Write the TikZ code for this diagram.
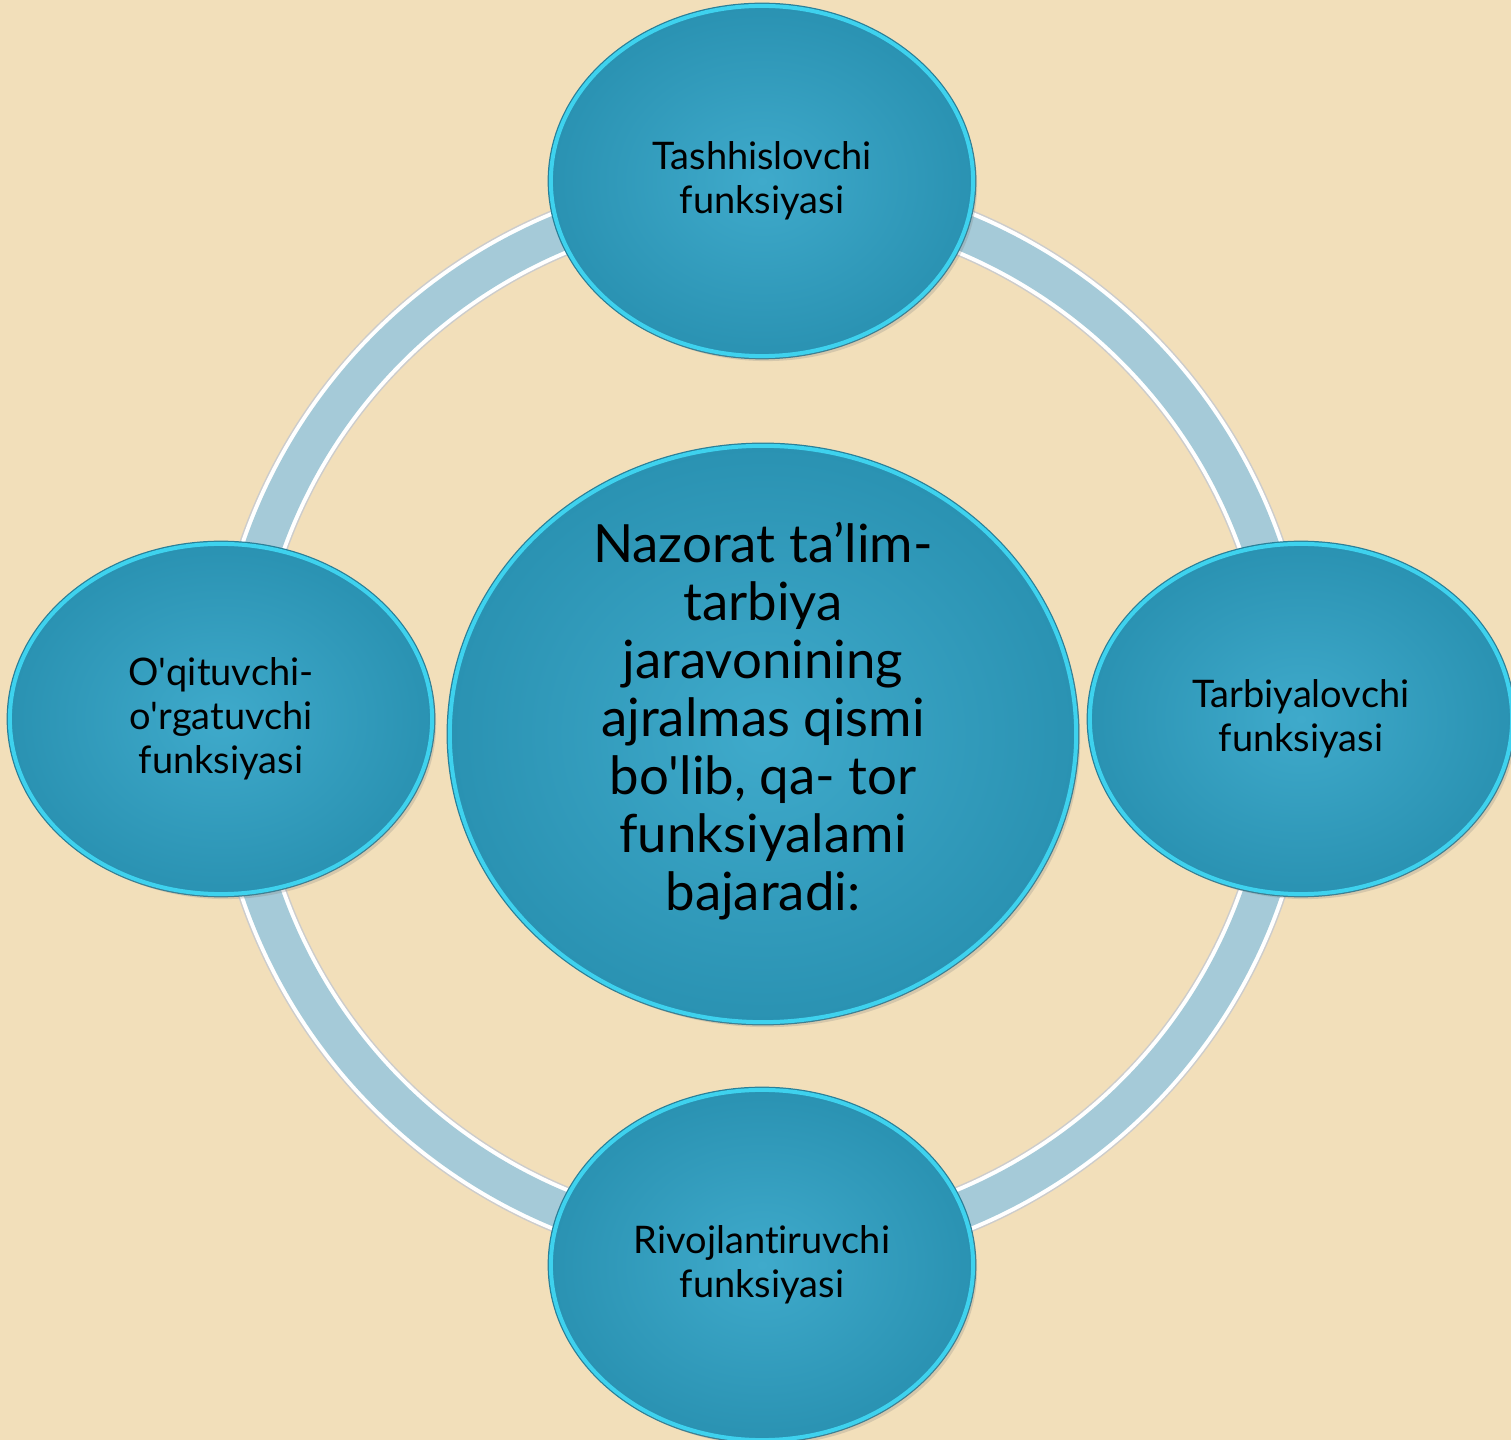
\documentclass[tikz,border=0pt]{standalone}
\usepackage{fontspec}
\setmainfont{Lato}[Ligatures={NoCommon}]
\usetikzlibrary{shapes.geometric,shadows}

\definecolor{parch}{HTML}{F2DFBA}
\definecolor{ringfill}{HTML}{A5CAD8}
\definecolor{bubblein}{HTML}{3FAACB}
\definecolor{bubbleout}{HTML}{2A92B2}
\definecolor{bubbleedge}{HTML}{3ED2EE}
\definecolor{bubbledark}{HTML}{2A7F98}

\newcommand{\sq}{\textquotesingle}

\begin{document}
\begin{tikzpicture}[x=0.01cm,y=-0.01cm,
	bubble/.style={ellipse, draw=bubbleedge, line width=0.04cm,
		inner color=bubblein, outer color=bubbleout, align=center,
		preaction={draw=bubbledark, line width=0.065cm},
		drop shadow={opacity=0.25, shadow xshift=0.04cm, shadow yshift=-0.05cm}},
	smallbubble/.style={bubble, minimum width=4.22cm, minimum height=3.5cm,
		font=\fontsize{10.8pt}{12.5pt}\selectfont},
	bigbubble/.style={bubble, minimum width=6.26cm, minimum height=5.76cm},
	bigtext/.style={align=center, font=\fontsize{15pt}{16.5pt}\selectfont}]

% background
\path[use as bounding box, fill=parch] (0,0) rectangle (1511,1440);

% ring
\coordinate (ring) at (762,721);
\draw[black!20, line width=0.48cm] (ring) circle [radius=5.28cm];
\draw[white, line width=0.45cm] (ring) circle [radius=5.28cm];
\draw[ringfill, line width=0.37cm] (ring) circle [radius=5.28cm];

% bubbles
\node [bigbubble] (nazorat) at (763,734) {};
\node [bigtext] (nazorattext) at ([yshift=0.13cm]nazorat.center) {Nazorat ta’lim-\\tarbiya\\jaravonining\\ajralmas qismi\\bo\sq lib, qa- tor\\funksiyalami\\bajaradi:};
\node [smallbubble] (tash) at (762,181) {Tashhislovchi\\funksiyasi};
\node [smallbubble] (tarb) at (1301,719) {Tarbiyalovchi\\funksiyasi};
\node [smallbubble] (rivo) at (762,1265) {Rivojlantiruvchi\\funksiyasi};
\node [smallbubble] (oqit) at (221,719) {O\sq qituvchi-\\o\sq rgatuvchi\\funksiyasi};
\end{tikzpicture}
\end{document}
